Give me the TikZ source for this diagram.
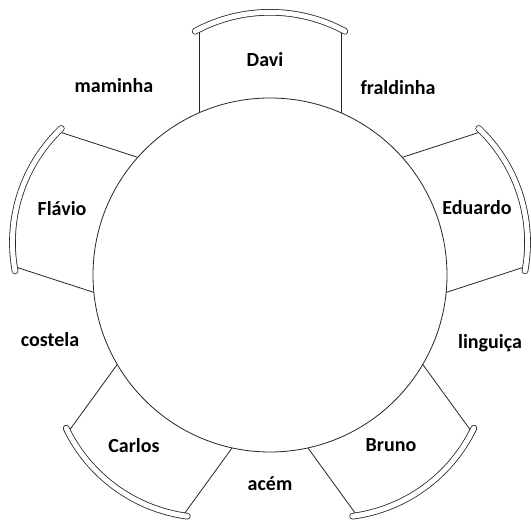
\documentclass[tikz,border=0pt]{standalone}
\usepackage{fontspec}
\setmainfont{Carlito}
\tikzset{
  lbl/.style={font=\fontsize{20}{24}\selectfont\bfseries, inner sep=0pt},
  tableshape/.style={draw=black!85, line width=0.8pt, circle, minimum size=354pt, inner sep=0pt},
  leg/.style={draw=black!85, line width=0.8pt},
  chairback/.style={draw=black!85, line width=0.8pt, double=white, double distance=5pt, line cap=round},
  chair/.pic={
    \draw[leg] (-71,162.1) -- (-71,245.8);
    \draw[leg] (71,162.1) -- (71,245.8);
    \draw[chairback] (0,105.2) ++(118.4:157.5) arc[start angle=118.4, end angle=61.6, radius=157.5];
  }
}
\begin{document}
\begin{tikzpicture}[x=1pt,y=1pt]
\useasboundingbox (0,0) rectangle (531,524);
\fill[white] (0,0) rectangle (531,524);
\node[tableshape] (table) at (270,249) {};
\pic[shift={(270,249)}, rotate=0] {chair};
\pic[shift={(270,249)}, rotate=-72] {chair};
\pic[shift={(270,249)}, rotate=-144] {chair};
\pic[shift={(270,249)}, rotate=144] {chair};
\pic[shift={(270,249)}, rotate=72] {chair};
\node[lbl] (davi) at (265,464) {Davi};
\node[lbl] (eduardo) at (477,316) {Eduardo};
\node[lbl] (bruno) at (391,79) {Bruno};
\node[lbl] (carlos) at (134,78) {Carlos};
\node[lbl] (flavio) at (62,315) {Flávio};
\node[lbl] (maminha) at (114,438) {maminha};
\node[lbl] (fraldinha) at (398,436) {fraldinha};
\node[lbl] (costela) at (50,184) {costela};
\node[lbl] (linguica) at (490,181) {linguiça};
\node[lbl] (acem) at (270,40) {acém};
\end{tikzpicture}
\end{document}
